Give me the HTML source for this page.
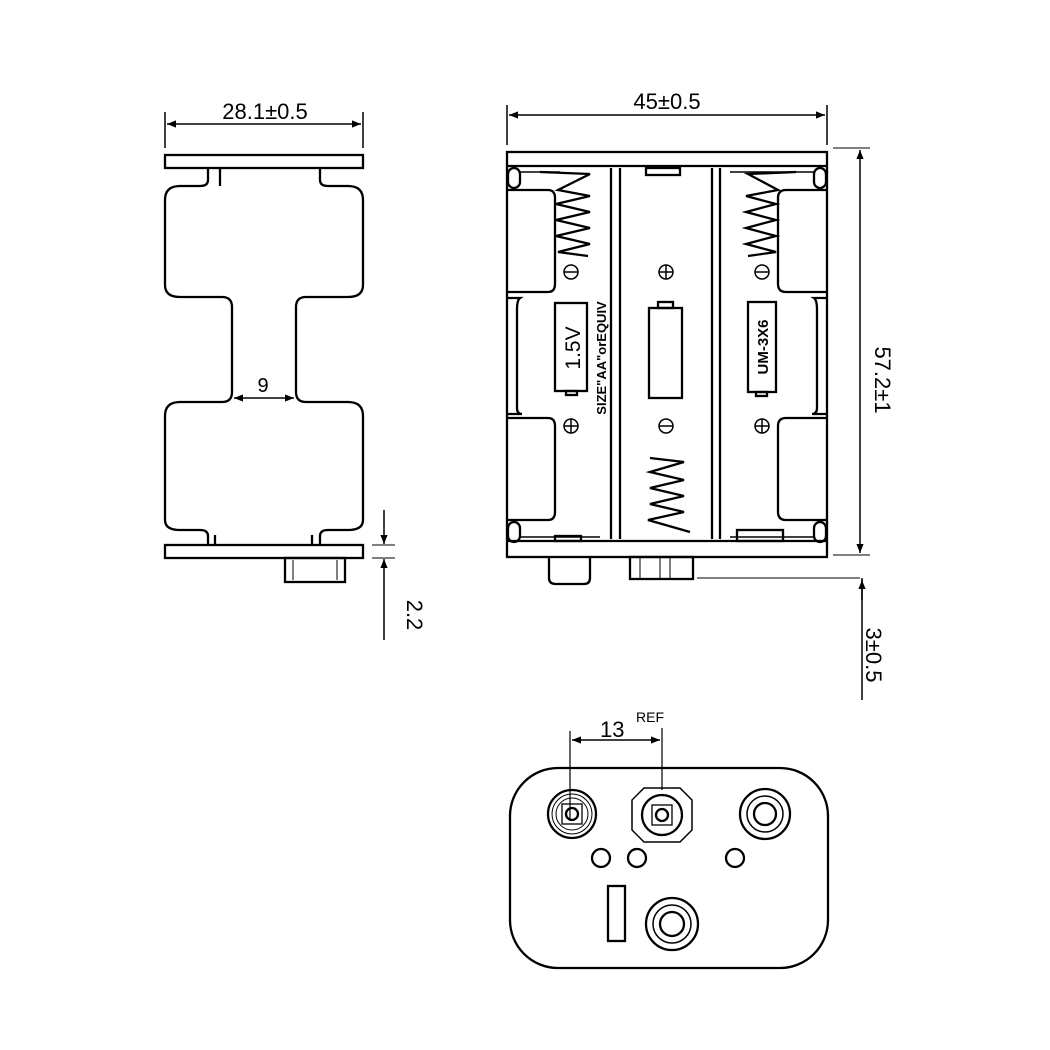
<!DOCTYPE html>
<html><head><meta charset="utf-8"><style>html,body{margin:0;padding:0;background:#fff}svg{display:block}</style></head><body>
<svg width="1050" height="1050" viewBox="0 0 1050 1050" xmlns="http://www.w3.org/2000/svg" font-family="Liberation Sans, sans-serif" fill="none" stroke="#000" stroke-width="2.3">
<defs><marker id="a" viewBox="0 0 10 10" refX="10" refY="5" markerWidth="8" markerHeight="6" orient="auto-start-reverse"><path d="M0,1 L10,5 L0,9z" fill="#000" stroke="none"/></marker></defs>

<!-- LEFT VIEW -->
<line x1="165" y1="112" x2="165" y2="148" stroke-width="1.5"/>
<line x1="363" y1="112" x2="363" y2="148" stroke-width="1.5"/>
<line x1="167" y1="124" x2="361" y2="124" stroke-width="1.5" marker-start="url(#a)" marker-end="url(#a)"/>
<text x="265" y="119" font-size="22" text-anchor="middle" fill="#000" stroke="none">28.1±0.5</text>
<rect x="165" y="155" width="198" height="13"/>
<rect x="165" y="545" width="198" height="13"/>
<path d="M208,168 L208,180 Q208,186 200,186 L180,186 Q165,186 165,200 L165,285 Q165,297 180,297 L222,297 Q232,297 232,307 L232,392 Q232,402 222,402 L180,402 Q165,402 165,416 L165,520 Q165,530 180,530 L200,530 Q208,530 208,536 L208,545"/>
<path d="M220,168 L220,186"/>
<path d="M320,168 L320,180 Q320,186 328,186 L348,186 Q363,186 363,200 L363,285 Q363,297 348,297 L306,297 Q296,297 296,307 L296,392 Q296,402 306,402 L348,402 Q363,402 363,416 L363,520 Q363,530 348,530 L328,530 Q320,530 320,536 L320,545"/>
<path d="M215,535 L215,545 M312,535 L312,545"/>
<line x1="234" y1="398" x2="294" y2="398" stroke-width="1.5" marker-start="url(#a)" marker-end="url(#a)"/>
<text x="263" y="392" font-size="20" text-anchor="middle" fill="#000" stroke="none">9</text>
<rect x="285" y="558" width="60" height="24"/>
<line x1="293" y1="560" x2="293" y2="580" stroke-width="1"/><line x1="337" y1="560" x2="337" y2="580" stroke-width="1"/>
<line x1="372" y1="545" x2="395" y2="545" stroke-width="1"/>
<line x1="372" y1="558" x2="395" y2="558" stroke-width="1"/>
<line x1="384" y1="510" x2="384" y2="544" stroke-width="1.5" marker-end="url(#a)"/>
<line x1="384" y1="640" x2="384" y2="559" stroke-width="1.5" marker-end="url(#a)"/>
<text transform="translate(407,615) rotate(90)" font-size="22" text-anchor="middle" fill="#000" stroke="none">2.2</text>

<!-- MIDDLE VIEW -->
<line x1="507" y1="105" x2="507" y2="145" stroke-width="1.5"/>
<line x1="827" y1="105" x2="827" y2="145" stroke-width="1.5"/>
<line x1="509" y1="115" x2="825" y2="115" stroke-width="1.5" marker-start="url(#a)" marker-end="url(#a)"/>
<text x="667" y="109" font-size="22" text-anchor="middle" fill="#000" stroke="none">45±0.5</text>
<rect x="507" y="152" width="320" height="405"/>
<line x1="507" y1="166" x2="827" y2="166"/>
<line x1="507" y1="541" x2="827" y2="541"/>
<line x1="611" y1="168" x2="611" y2="539"/><line x1="620" y1="168" x2="620" y2="539"/>
<line x1="712" y1="168" x2="712" y2="539"/><line x1="720" y1="168" x2="720" y2="539"/>
<rect x="508" y="168" width="12" height="20" rx="6"/>
<rect x="508" y="522" width="12" height="20" rx="6"/>
<rect x="814" y="168" width="12" height="20" rx="6"/>
<rect x="814" y="522" width="12" height="20" rx="6"/>
<path d="M520,172 L560,172 M520,537 L600,537 M730,172 L814,172 M730,537 L814,537" stroke-width="1.5"/>
<path d="M508,190 L548,190 Q555,190 555,198 L555,284 Q555,292 548,292 L508,292"/>
<path d="M508,298 L520,298 Q517,300 517,310 L517,408 Q517,414 522,414 L508,414"/>
<path d="M508,418 L548,418 Q555,418 555,426 L555,512 Q555,520 548,520 L508,520"/>
<path d="M826,190 L786,190 Q778,190 778,198 L778,284 Q778,292 786,292 L826,292"/>
<path d="M826,298 L814,298 Q817,300 817,310 L817,408 Q817,414 812,414 L826,414"/>
<path d="M826,418 L786,418 Q778,418 778,426 L778,512 Q778,520 786,520 L826,520"/>
<!-- springs -->
<path d="M540,172 L590,174 L558,190 L590,196 L556,204 L590,212 L556,220 L590,228 L556,236 L590,244 L558,252 L588,256" stroke-width="2.3"/>
<path d="M796,172 L748,174 L778,190 L746,196 L776,204 L746,212 L776,220 L746,228 L776,236 L746,244 L776,252 L748,256" stroke-width="2.3"/>
<path d="M650,458 L684,462 L650,472 L684,480 L650,488 L684,496 L650,504 L684,512 L648,520 L690,532" stroke-width="2.3"/>
<rect x="646" y="168" width="34" height="7"/>
<rect x="555" y="536" width="26" height="5"/>
<rect x="737" y="530" width="46" height="11"/>
<g stroke-width="1.5">
<circle cx="571" cy="272" r="7"/><line x1="564" y1="272" x2="578" y2="272"/>
<circle cx="666" cy="272" r="7"/><line x1="659" y1="272" x2="673" y2="272"/><line x1="666" y1="265" x2="666" y2="279"/>
<circle cx="762" cy="272" r="7"/><line x1="755" y1="272" x2="769" y2="272"/>
<circle cx="571" cy="426" r="7"/><line x1="564" y1="426" x2="578" y2="426"/><line x1="571" y1="419" x2="571" y2="433"/>
<circle cx="666" cy="426" r="7"/><line x1="659" y1="426" x2="673" y2="426"/>
<circle cx="762" cy="426" r="7"/><line x1="755" y1="426" x2="769" y2="426"/><line x1="762" y1="419" x2="762" y2="433"/>
</g>
<rect x="555" y="303" width="32" height="88"/>
<rect x="566" y="391" width="11" height="4"/>
<text transform="translate(580,348) rotate(-90)" font-size="21" text-anchor="middle" fill="#000" stroke="none">1.5V</text>
<text transform="translate(606,358) rotate(-90)" font-size="13" text-anchor="middle" fill="#000" stroke="none" font-weight="bold">SIZE"AA"orEQUIV</text>
<rect x="649" y="308" width="33" height="90"/>
<rect x="658" y="302" width="15" height="6"/>
<rect x="748" y="302" width="28" height="90"/>
<rect x="756" y="392" width="11" height="4"/>
<text transform="translate(768,347) rotate(-90)" font-size="15" text-anchor="middle" fill="#000" stroke="none" font-weight="bold">UM-3X6</text>
<path d="M549,557 L549,578 Q549,584 556,584 L584,584 Q590,584 590,578 L590,557"/>
<rect x="630" y="557" width="63" height="22"/>
<line x1="640" y1="558" x2="640" y2="578" stroke-width="1"/><line x1="660" y1="558" x2="660" y2="578" stroke-width="1"/><line x1="670" y1="558" x2="670" y2="578" stroke-width="1"/>
<line x1="697" y1="578" x2="860" y2="578" stroke-width="1"/>
<line x1="833" y1="148" x2="870" y2="148" stroke-width="1"/>
<line x1="833" y1="555" x2="870" y2="555" stroke-width="1"/>
<line x1="860" y1="150" x2="860" y2="553" stroke-width="1.5" marker-start="url(#a)" marker-end="url(#a)"/>
<text transform="translate(875,380) rotate(90)" font-size="22" text-anchor="middle" fill="#000" stroke="none">57.2±1</text>
<line x1="862" y1="578" x2="862" y2="700" stroke-width="1.5"/>
<line x1="862" y1="600" x2="862" y2="580" stroke-width="1.5" marker-end="url(#a)"/>
<text transform="translate(866,655) rotate(90)" font-size="22" text-anchor="middle" fill="#000" stroke="none">3±0.5</text>

<!-- BOTTOM VIEW -->
<line x1="570" y1="731" x2="570" y2="820" stroke-width="1.2"/>
<line x1="662" y1="728" x2="662" y2="790" stroke-width="1.2"/>
<line x1="572" y1="740" x2="660" y2="740" stroke-width="1.5" marker-start="url(#a)" marker-end="url(#a)"/>
<text x="600" y="737" font-size="22" fill="#000" stroke="none">13</text>
<text x="636" y="722" font-size="14" fill="#000" stroke="none">REF</text>
<rect x="510" y="768" width="318" height="200" rx="48"/>
<circle cx="572" cy="814" r="24"/><circle cx="572" cy="814" r="20" stroke-width="1"/><circle cx="572" cy="814" r="16" stroke-width="1"/>
<circle cx="572" cy="814" r="6"/><rect x="562" y="804" width="20" height="20" stroke-width="1.3"/>
<path d="M644,788 L680,788 L692,800 L692,830 L680,842 L644,842 L632,830 L632,800 Z" stroke-width="1.5"/>
<circle cx="662" cy="815" r="20"/><circle cx="662" cy="815" r="6"/><rect x="652" y="805" width="20" height="20" stroke-width="1.3"/>
<circle cx="765" cy="814" r="25"/><circle cx="765" cy="814" r="18" stroke-width="1.5"/><circle cx="765" cy="814" r="11"/>
<circle cx="601" cy="858" r="9"/><circle cx="637" cy="858" r="9"/><circle cx="735" cy="858" r="9"/>
<rect x="608" y="886" width="17" height="55"/>
<circle cx="672" cy="924" r="26"/><circle cx="672" cy="924" r="19" stroke-width="1.5"/><circle cx="672" cy="924" r="12"/>
</svg>
</body></html>
